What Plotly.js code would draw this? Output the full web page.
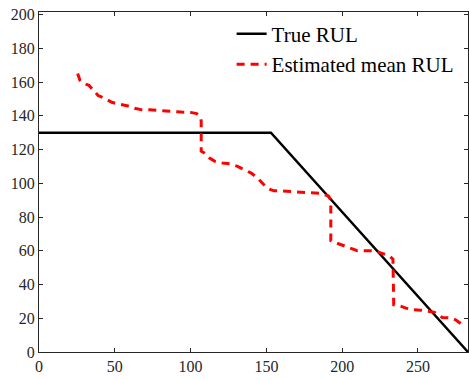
<!DOCTYPE html>
<html>
<head>
<meta charset="utf-8">
<script src="https://cdn.plot.ly/plotly-3.0.1.min.js"></script>
<style>html,body{margin:0;padding:0;background:#fff;}#chart{width:469px;height:380px;}</style>
</head>
<body>
<div id="chart"></div>
<script>
// True RUL (piecewise linear)
const trueX = [0, 153, 283];
const trueY = [130, 130, 0];

// Estimated mean RUL
const estX = [25.5, 27, 30, 33, 36, 39, 43, 48, 53, 58, 63, 68, 73, 79, 84, 90, 94, 100, 104, 106, 107, 107, 109, 112.5, 116, 121, 126, 131, 136, 140, 144, 147, 150, 152, 155, 160, 168, 177, 185, 189, 191, 192.5, 192.5, 195, 198, 201, 206, 210, 215, 222, 226, 231, 233.5, 234, 236, 239, 242, 247, 252, 258, 261, 263, 266, 272, 275, 278, 281];
const estY = [165, 161, 159, 158, 155, 152, 150.4, 148, 146.8, 146, 144.5, 143.5, 143.5, 143, 142.6, 142.5, 142.2, 142, 141.3, 140, 137, 119, 118, 115, 113, 112, 111.5, 110, 108, 106, 103.3, 100.4, 97.5, 96.5, 95.5, 95.5, 95, 94.5, 94, 93, 92.5, 90, 66, 65, 64, 63, 61, 60, 60, 60, 58.5, 57, 55, 28, 27.5, 27, 26, 25, 24.8, 24, 23.5, 22, 20.5, 20.2, 19, 17, 15];

const seriesNames = ['True RUL', 'Estimated mean RUL'];
const xTicks = [0, 50, 100, 150, 200, 250];
const yTicks = [0, 20, 40, 60, 80, 100, 120, 140, 160, 180, 200];

const axisCol = '#262626';
const fontFam = 'Liberation Serif, Times New Roman, serif';

const traces = [
  {x: trueX, y: trueY, name: seriesNames[0], mode: 'lines', line: {color: '#000000', width: 2.5}},
  {x: estX, y: estY, name: seriesNames[1], mode: 'lines', line: {color: '#ff0000', width: 3, dash: '8px,6px'}}
];

function axis(range, ticks) {
  return {
    range: range, tickvals: ticks, ticktext: ticks.map(String),
    showline: true, linecolor: axisCol, linewidth: 1, mirror: 'ticks',
    ticks: 'inside', ticklen: 4, tickcolor: axisCol, tickwidth: 1,
    showgrid: false, zeroline: false,
    tickfont: {family: fontFam, size: 16, color: axisCol}
  };
}

const layout = {
  width: 469, height: 380,
  margin: {l: 39, r: 1, t: 12, b: 28},
  paper_bgcolor: '#ffffff', plot_bgcolor: '#ffffff',
  font: {family: fontFam},
  showlegend: true,
  legend: {x: 0.449, y: 0.995, xanchor: 'left', yanchor: 'top', bgcolor: 'rgba(0,0,0,0)', borderwidth: 0,
           font: {family: fontFam, size: 21, color: '#000000'}, tracegroupgap: 0},
  xaxis: axis([0, 283], xTicks),
  yaxis: axis([0, 201.5], yTicks)
};

Plotly.newPlot('chart', traces, layout, {displayModeBar: false, staticPlot: true});
</script>
</body>
</html>
